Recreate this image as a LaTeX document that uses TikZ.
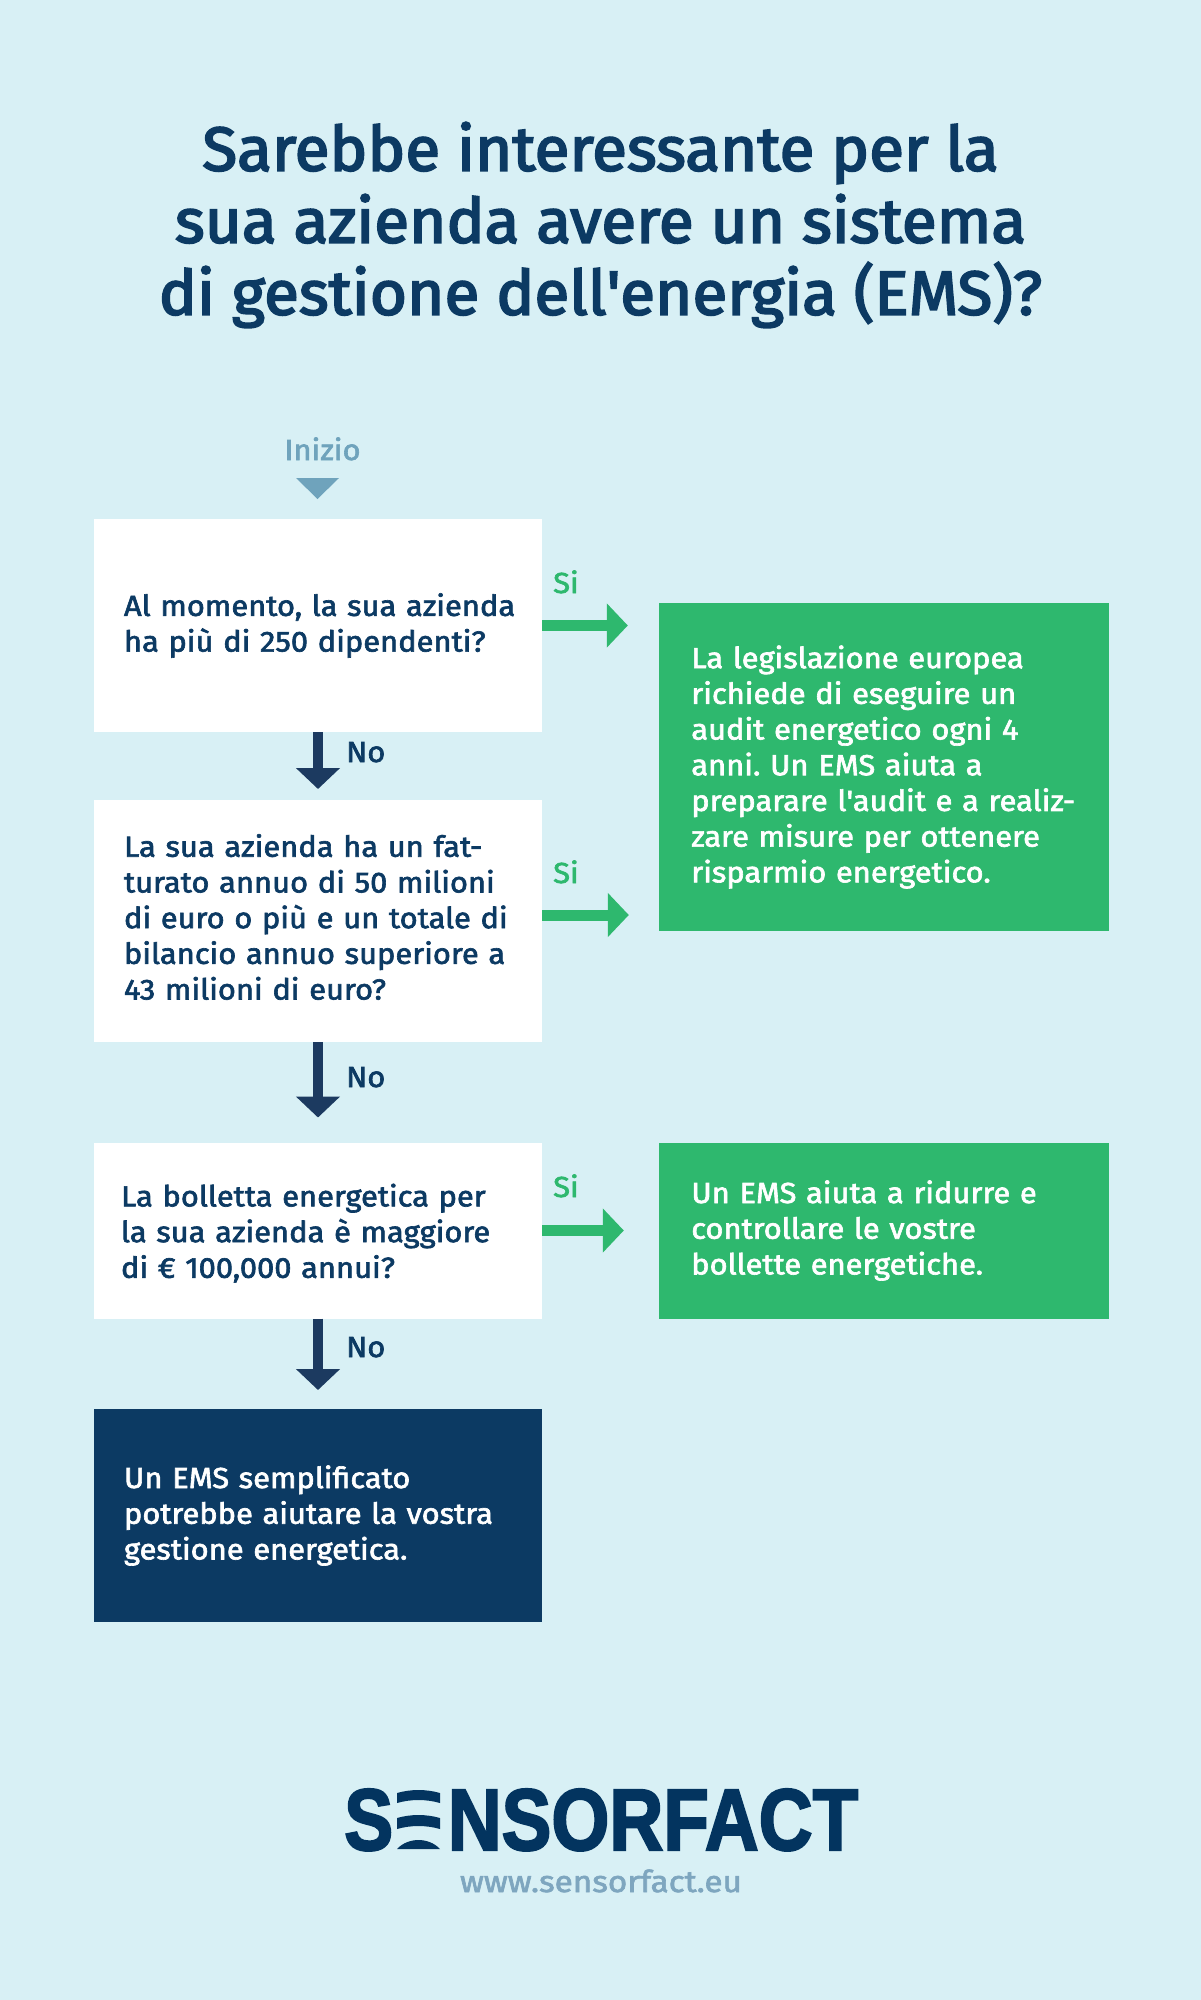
\documentclass[tikz,border=0pt]{standalone}
\usepackage{fontspec}
\usepackage{graphicx}
\usetikzlibrary{arrows.meta}
\setmainfont{Fira Sans}[FakeBold=2.2,FakeStretch=1.065]
\newfontfamily\titlefont{Fira Sans}[FakeBold=3,FakeStretch=1.03]
\newfontfamily\urlfont{Fira Sans}[FakeBold=2.2,FakeStretch=1.11]
\newfontfamily\logofont{Liberation Sans}[UprightFont={* Bold},FakeBold=2.5]
\definecolor{bgc}{HTML}{D8F0F5}
\definecolor{navy}{HTML}{0C3A63}
\definecolor{arrownavy}{HTML}{1C3A60}
\definecolor{greenc}{HTML}{2EB86E}
\definecolor{startc}{HTML}{6FA3BC}
\definecolor{urlc}{HTML}{7EA6BF}
\definecolor{logoc}{HTML}{03345F}
\tikzset{
  x=1pt,y=-1pt,
  bodyfont/.style={font=\frenchspacing\fontsize{29}{35.7}\selectfont},
  panel/.style={bodyfont,align=left,anchor=center,inner ysep=0pt,minimum height=#1,outer sep=0pt},
  qbox/.style={panel=#1,fill=white,text=navy,text width=388pt,inner xsep=30pt},
  gbox/.style={panel=#1,fill=greenc,text=white,text width=386pt,inner xsep=32pt},
  nbox/.style={panel=#1,fill=navy,text=white,text width=388pt,inner xsep=30pt},
  downarrow/.style={draw=arrownavy,line width=10.5pt,-{Triangle[width=43pt,length=21pt]}},
  rightarrow/.style={draw=greenc,line width=11pt,-{Triangle[width=43pt,length=21pt]}},
  silabel/.style={bodyfont,text=greenc,anchor=base west,inner sep=0pt},
  nolabel/.style={bodyfont,text=navy,anchor=base west,inner sep=0pt},
}
\begin{document}
\begin{tikzpicture}
\useasboundingbox (0,0) rectangle (1201,2000);
\fill[bgc] (0,0) rectangle (1201,2000);
\node[font=\titlefont\fontsize{62}{72}\selectfont,text=navy,align=center,anchor=center,inner sep=0pt] (title) at (600.5,225) {Sarebbe interessante per la\\sua azienda avere un sistema\\di gestione dell\textquotesingle energia (EMS)?};
\node[bodyfont,text=startc,anchor=base,inner sep=0pt] (inizio) at (322.5,460) {Inizio};
\fill[startc] (296,478) -- (339,478) -- (317.5,499) -- cycle;
\node[qbox=213pt] (b1) at (318,625.5) {\mbox{Al momento, la sua azienda}\\ha più di 250 dipendenti?};
\node[qbox=242pt] (b2) at (318,921) {La sua azienda ha un fat-\\turato annuo di 50 milioni\\di euro o più e un totale di\\bilancio annuo superiore a\\43 milioni di euro?\par\vspace{8pt}};
\node[qbox=176pt,inner xsep=27pt,text width=394pt] (b3) at (318,1230.5) {\rule{0pt}{28pt}La bolletta energetica per\\la sua azienda è maggiore\\di € 100,000 annui?};
\node[nbox=213pt] (b4) at (318,1515.5) {Un EMS semplificato\\potrebbe aiutare la vostra\\gestione energetica.};
\node[gbox=328pt] (g1) at (884.3,767) {La legislazione europea\\richiede di eseguire un\\audit energetico ogni 4\\anni. Un EMS aiuta a\\preparare l\textquotesingle audit e a realiz-\\zare misure per ottenere\\risparmio energetico.};
\node[gbox=176pt] (g2) at (884.3,1230.5) {Un EMS aiuta a ridurre e\\controllare le vostre\\bollette energetiche.};
\draw[downarrow,shorten >=11pt] (b1) -- (b2);
\draw[downarrow,shorten >=25pt] (b2) -- (b3);
\draw[downarrow,shorten >=19pt] (b3) -- (b4);
\draw[rightarrow,shorten >=31.5pt] (b1.east) -- (b1.east -| g1.west);
\coordinate (b2out) at (542,915);
\draw[rightarrow,shorten >=30.5pt] (b2out) -- (b2out -| g1.west);
\draw[rightarrow,shorten >=35.5pt] (b3.east) -- (g2.west);
\node[silabel] (si1) at (553,593) {Si};
\node[silabel] (si2) at (553,883) {Si};
\node[silabel] (si3) at (553,1197) {Si};
\node[nolabel] (no1) at (346,762) {No};
\node[nolabel] (no2) at (346,1087) {No};
\node[nolabel] (no3) at (346,1357) {No};
\node[text=logoc,anchor=base west,inner sep=0pt] (logos) at (344,1850) {\resizebox{49pt}{61pt}{\logofont S}};
\fill[logoc] (397,1793) .. controls (411,1789) and (426,1789) .. (440,1793) -- (440,1803) .. controls (426,1799) and (411,1799) .. (397,1803) -- cycle;
\fill[logoc] (397,1818) .. controls (411,1814) and (426,1814) .. (440,1818) -- (440,1829) .. controls (426,1825) and (411,1825) .. (397,1829) -- cycle;
\fill[logoc] (397,1849) .. controls (408,1837) and (429,1837) .. (440,1849) -- cycle;
\node[text=logoc,anchor=base west,inner sep=0pt] (logorest) at (447.5,1850) {\resizebox{410.5pt}{61pt}{\logofont NSORFACT}};
\node[font=\urlfont\fontsize{30}{34}\selectfont,text=urlc,anchor=base,inner sep=0pt] (url) at (601,1892) {www.sensorfact.eu};
\end{tikzpicture}
\end{document}
